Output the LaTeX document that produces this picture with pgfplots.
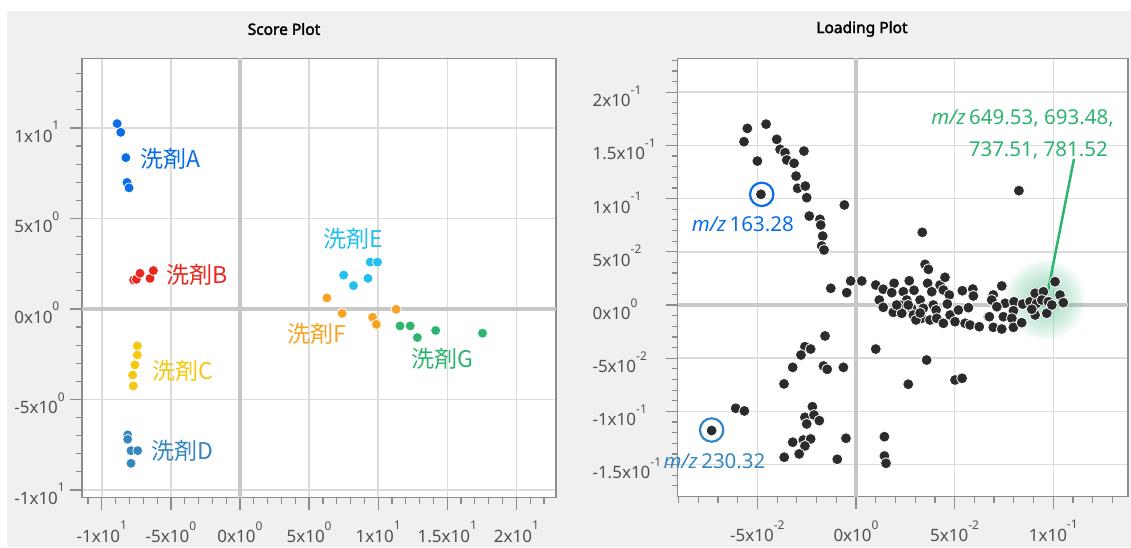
\documentclass[border=0pt]{standalone}
\usepackage{fontspec}
\setmainfont{Noto Sans}
\newfontfamily\titlefont{Noto Sans}[AutoFakeBold=2.2]
\newfontfamily\cjk{Noto Sans CJK JP}
\usepackage{pgfplots}
\pgfplotsset{compat=1.18}
\definecolor{bg}{HTML}{F0F0F0}
\definecolor{gridc}{HTML}{DCDCDC}
\definecolor{zeroc}{HTML}{C8C8C8}
\definecolor{framec}{HTML}{8C8C8C}
\definecolor{tickc}{HTML}{505050}
\definecolor{cA}{HTML}{0A6EE6}
\definecolor{cB}{HTML}{E8281E}
\definecolor{cC}{HTML}{F5C814}
\definecolor{cD}{HTML}{3587C0}
\definecolor{cE}{HTML}{22C0EE}
\definecolor{cF}{HTML}{F7A325}
\definecolor{cG}{HTML}{2DB46E}
\definecolor{dots}{HTML}{2B2B2B}
\newcommand{\sci}[2]{#1x10\raisebox{12.5pt}{\fontsize{12}{12}\selectfont #2}}
\tikzset{lab/.style={font=\cjk\fontsize{23}{23}\selectfont, anchor=west, inner sep=0pt},
  glow/.style={fill=cG, opacity=0.045}}
\pgfplotsset{
  myaxis/.style={
    scale only axis, anchor=south west,
    axis background/.style={fill=white},
    axis line style={framec, line width=1.5pt},
    tick pos=left, tick align=outside,
    major tick length=12pt, minor tick length=6pt,
    tick style={framec, line width=1.2pt},
    grid=major, major grid style={gridc, line width=1.5pt},
    tick label style={font=\fontsize{17}{17}\selectfont, text=tickc},
    xticklabel style={inner sep=1pt, yshift=-10.5pt},
    clip=false,
  },
  sm/.style={only marks, mark=*, mark size=5pt, mark options={fill=#1, draw=white, line width=0.7pt}},
}
\begin{document}
\begin{tikzpicture}
\useasboundingbox (0,0) rectangle (1131pt,547pt);
\fill[white] (0,0) rectangle (1131pt,547pt);
\fill[bg] (7pt,0) rectangle (1131pt,536pt);
\node[font=\titlefont\bfseries\fontsize{15.5}{15.5}\selectfont] at (284pt,518pt) {Score Plot};
\node[font=\titlefont\bfseries\fontsize{15.5}{15.5}\selectfont] at (862pt,518pt) {Loading Plot};

\begin{axis}[myaxis, at={(81.8pt,49.3pt)}, width=474.2pt, height=439.4pt,
  xmin=-11.45, xmax=22.87, ymin=-10.43, ymax=13.85,
  xtick={-10,-5,0,5,10,15,20},
  xticklabels={\sci{-1}{1},\sci{-5}{0},\sci{0}{0},\sci{5}{0},\sci{1}{1},\sci{1.5}{1},\sci{2}{1}},
  ytick={-10,-5,0,5,10},
  yticklabels={\sci{-1}{1},\sci{-5}{0},\sci{0}{0},\sci{5}{0},\sci{1}{1}},
  minor xtick={-11,-10,...,22},
  minor ytick={-10,-9,...,13},
  yticklabel style={anchor=west, xshift=-59pt, yshift=-4pt},
]
\draw[zeroc, line width=3.5pt] (0,-10.43) -- (0,13.85);
\draw[zeroc, line width=3.5pt] (-11.45,0) -- (22.87,0);
\addplot[sm=cA] coordinates {(-8.89,10.24) (-8.63,9.76) (-8.26,8.36) (-8.18,6.99) (-8.03,6.69)};
\addplot[sm=cB] coordinates {(-7.7,1.6) (-7.5,1.64) (-7.24,1.97) (-6.51,1.69) (-6.27,2.12)};
\addplot[sm=cC] coordinates {(-7.43,-2.04) (-7.43,-2.54) (-7.6,-3.09) (-7.77,-3.65) (-7.72,-4.25)};
\addplot[sm=cD] coordinates {(-8.13,-6.96) (-8.13,-7.2) (-7.89,-7.83) (-7.4,-7.83) (-7.89,-8.53)};
\addplot[sm=cE] coordinates {(7.5,1.87) (9.42,2.59) (9.95,2.59) (9.26,1.69) (8.21,1.29)};
\addplot[sm=cF] coordinates {(6.29,0.61) (7.39,-0.24) (9.6,-0.46) (9.87,-0.85) (11.3,-0.02)};
\addplot[sm=cG] coordinates {(11.58,-0.94) (12.32,-0.94) (12.84,-1.58) (14.16,-1.19) (17.55,-1.34)};
\node[lab, text=cA] at (-7.24,8.29) {洗剤A};
\node[lab, text=cB] at (-5.35,1.88) {洗剤B};
\node[lab, text=cC] at (-6.37,-3.42) {洗剤C};
\node[lab, text=cD] at (-6.45,-7.82) {洗剤D};
\node[lab, text=cE] at (6.05,3.87) {洗剤E};
\node[lab, text=cF] at (3.42,-1.38) {洗剤F};
\node[lab, text=cG] at (12.37,-2.75) {洗剤G};
\end{axis}

\begin{axis}[myaxis, at={(677.7pt,50.3pt)}, width=450.3pt, height=438.4pt,
  xmin=-0.0904, xmax=0.1379, ymin=-0.1802, ymax=0.2319,
  xtick={-0.05,0,0.05,0.1},
  xticklabels={\sci{-5}{-2},\sci{0}{0},\sci{5}{-2},\sci{1}{-1}},
  ytick={-0.15,-0.1,-0.05,0,0.05,0.1,0.15,0.2},
  yticklabels={\sci{-1.5}{-1},\sci{-1}{-1},\sci{-5}{-2},\sci{0}{0},\sci{5}{-2},\sci{1}{-1},\sci{1.5}{-1},\sci{2}{-1}},
  minor xtick={-0.09,-0.08,-0.07,-0.06,-0.05,-0.04,-0.03,-0.02,-0.01,0,0.01,0.02,0.03,0.04,0.05,0.06,0.07,0.08,0.09,0.1,0.11,0.12,0.13},
  minor ytick={-0.17,-0.16,-0.15,-0.14,-0.13,-0.12,-0.11,-0.1,-0.09,-0.08,-0.07,-0.06,-0.05,-0.04,-0.03,-0.02,-0.01,0,0.01,0.02,0.03,0.04,0.05,0.06,0.07,0.08,0.09,0.1,0.11,0.12,0.13,0.14,0.15,0.16,0.17,0.18,0.19,0.2,0.21,0.22,0.23},
  yticklabel style={anchor=west, xshift=-76.7pt, yshift=-4pt},
]
\draw[zeroc, line width=3.5pt] (0,-0.1802) -- (0,0.2319);
\draw[zeroc, line width=3.5pt] (-0.0904,0) -- (0.1379,0);
\addplot[only marks, mark=*, mark size=5.5pt, mark options={fill=dots, draw=white, line width=0.8pt}] coordinates {
(-0.0551,0.166) (-0.0568,0.1535) (-0.0456,0.170) (-0.0402,0.1557) (-0.0385,0.1463) (-0.0360,0.1432) (-0.0351,0.1363) (-0.050,0.1353) (-0.0264,0.1447) (-0.0314,0.1332) (-0.0304,0.1212) (-0.0296,0.1097) (-0.0257,0.1118) (-0.0250,0.1009) (-0.0482,0.104) (-0.0059,0.094) (-0.0237,0.0836) (-0.0183,0.0805) (-0.0179,0.0752) (-0.0169,0.0648) (-0.0174,0.0555) (-0.0162,0.0517)
(0.0826,0.1075)
(-0.0128,0.0157) (-0.0047,0.0116) (-0.0027,0.0226) (0.0029,0.0226) (0.0336,0.0683) (0.035,0.0382) (0.0367,0.0335) (0.0100,0.0188) (0.0138,0.0148) (0.0193,0.0204) (0.0181,0.0116) (0.0118,0.0047) (0.0138,-0.0022) (0.0189,-0.0069) (0.0240,0.0125) (0.0270,0.0228) (0.0294,0.0138) (0.0257,0.0047) (0.0223,0) (0.0232,-0.0078) (0.0282,-0.0031) (0.0291,-0.0094) (0.0325,0.0047) (0.0341,-0.0031) (0.0363,0.0204) (0.0384,0.0125) (0.0333,-0.0125) (0.0375,-0.0141) (0.0392,0) (0.0426,0.0188) (0.0451,0.026) (0.0443,0.0141) (0.0473,0.0094) (0.0463,0.0009) (0.0406,-0.0047) (0.0409,-0.0125) (0.0443,-0.0172) (0.0477,-0.0094) (0.0502,-0.0157) (0.0519,-0.0047) (0.0539,0.0134) (0.0553,-0.0172) (0.0570,-0.0025) (0.0592,0.015) (0.0595,0.0085) (0.0578,-0.0188) (0.0625,-0.0204) (0.0671,-0.011) (0.0304,-0.0141) (0.0325,-0.0075) (0.0206,0) (0.0265,0)
(0.0739,0.0179) (0.0696,0.0094) (0.0688,0.0047) (0.0756,0.0016) (0.0801,0.0031) (0.0798,-0.0054) (0.0714,-0.0016) (0.0676,-0.011) (0.0747,-0.011) (0.0790,-0.0125) (0.0696,-0.021) (0.0739,-0.0226) (0.0798,-0.021) (0.0840,-0.0166) (0.0845,0.0009)
(0.0882,0.0031) (0.0908,0.011) (0.0950,0.0125) (0.0916,0.0016) (0.0942,0.0047) (0.0975,0.0031) (0.1009,0.0219) (0.1034,0.0094) (0.1051,0.0022) (0.0908,-0.0094) (0.0967,-0.0078) (0.0993,0) (0.0891,-0.004)
(-0.0157,-0.0291) (-0.0259,-0.0392) (-0.0230,-0.0414) (-0.0279,-0.047) (-0.0321,-0.0586) (-0.0165,-0.0573) (-0.0146,-0.0605) (-0.0064,-0.0586) (-0.0365,-0.0742) (0.01,-0.0414) (0.0265,-0.0745) (-0.061,-0.0971) (-0.0566,-0.0996) (-0.0732,-0.118) (-0.0221,-0.0956) (-0.0259,-0.1056) (-0.0213,-0.1034) (-0.0186,-0.1087) (-0.0250,-0.1118) (-0.0321,-0.129) (-0.0267,-0.1269) (-0.0230,-0.1259) (-0.0259,-0.1325) (-0.0288,-0.14) (-0.0364,-0.1431) (-0.0051,-0.1253) (-0.0095,-0.145) (0.0144,-0.1238) (0.0144,-0.1419) (0.0152,-0.1488)
(0.0358,-0.0517) (0.0502,-0.0705) (0.0538,-0.0689)
};
\fill[glow] (0.0958,0.0047) circle[radius=40pt];
\fill[glow] (0.0958,0.0047) circle[radius=37pt];
\fill[glow] (0.0958,0.0047) circle[radius=34pt];
\fill[glow] (0.0958,0.0047) circle[radius=31pt];
\fill[glow] (0.0958,0.0047) circle[radius=28pt];
\fill[glow] (0.0958,0.0047) circle[radius=25pt];
\fill[glow] (0.0958,0.0047) circle[radius=22pt];
\fill[glow] (0.0958,0.0047) circle[radius=19pt];
\fill[glow] (0.0958,0.0047) circle[radius=16pt];
\fill[glow] (0.0958,0.0047) circle[radius=13pt];
\fill[glow] (0.0958,0.0047) circle[radius=10pt];
\draw[cA, line width=2.2pt] (-0.0478,0.104) circle[radius=11.7pt];
\draw[cD, line width=2.2pt] (-0.0732,-0.1175) circle[radius=11.7pt];
\draw[cG, line width=2.5pt] (0.1105,0.1372) -- (0.0969,0.0094);
\node[text=cA, anchor=base west, inner sep=0pt, font=\fontsize{20.5}{20.5}\selectfont] at (-0.0833,0.0689) {\textit{m/z}\,163.28};
\node[text=cD, anchor=base west, inner sep=0pt, font=\fontsize{20.5}{20.5}\selectfont] at (-0.0977,-0.1535) {\textit{m/z}\,230.32};
\node[text=cG, anchor=base east, inner sep=0pt, font=\fontsize{20.5}{20.5}\selectfont] at (0.1308,0.1692) {\textit{m/z}\,649.53, 693.48,};
\node[text=cG, anchor=base east, inner sep=0pt, font=\fontsize{20.5}{20.5}\selectfont] at (0.1278,0.1394) {737.51, 781.52};
\end{axis}
\end{tikzpicture}
\end{document}
